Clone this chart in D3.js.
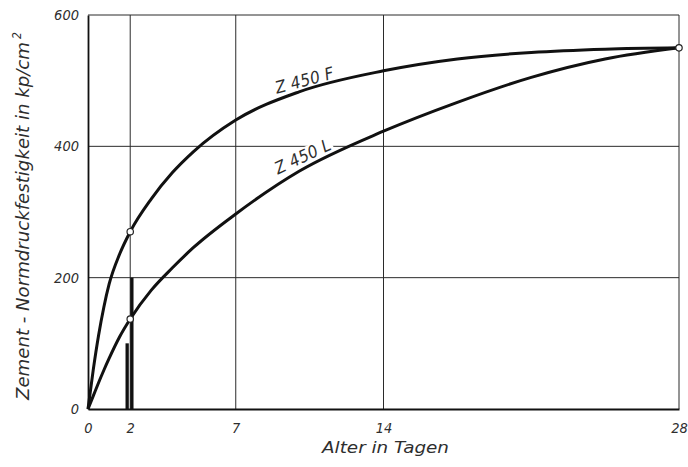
<!DOCTYPE html>
<html>
<head>
<meta charset="utf-8">
<script src="https://cdn.jsdelivr.net/npm/d3@7"></script>
<style>
  html, body { margin: 0; padding: 0; background: #fff; }
  svg { display: block; }
  text { font-family: "Liberation Sans Narrow", "DejaVu Sans Condensed", "Liberation Sans", sans-serif; font-style: italic; fill: #2e2e2e; }
</style>
</head>
<body>
<svg id="chart" width="688" height="467"></svg>
<script>
// Strength development of two cements (kp/cm²) over curing age (days)
const days  = [0, 0.25, 0.5, 0.75, 1, 1.5, 2, 3, 4, 5, 7, 10, 14, 17.5, 21, 24.5, 28];
const z450F = [0, 60, 112, 155, 190, 236, 270, 320, 360, 392, 440, 483, 515, 533, 543, 548, 550];
const z450L = [0, 20, 40, 59, 77, 110, 137, 181, 215, 246, 297, 362, 423, 467, 505, 533, 550];

// Marked test points (hollow circles)
const markDays   = [2, 2, 28];
const markValues = [270, 137, 550];

// Minimum 2-day strength bars
const minDays   = [2, 2];
const minValues = [100, 200];
const minKeys   = ["L", "F"];

// Axis ticks
const xTicks = [0, 2, 7, 14, 28];
const yTicks = [0, 200, 400, 600];

// Curve labels (anchored at the start of their baseline)
const labelTexts  = ["Z 450 F", "Z 450 L"];
const labelDays   = [8.95, 9.0];
const labelValues = [480, 357];
const labelAngles = [-15, -25];

const svg = d3.select("#chart");
const margin = { left: 88, right: 8, top: 15, bottom: 58 };
const W = 688, H = 467;

const x = d3.scaleLinear().domain([0, 28]).range([margin.left, W - margin.right - 1]);
const y = d3.scaleLinear().domain([0, 600]).range([H - margin.bottom, margin.top]);

// Grid
const grid = svg.append("g");
grid.selectAll("line.v").data(xTicks.filter(d => d > 0)).join("line")
  .attr("x1", d => x(d)).attr("x2", d => x(d))
  .attr("y1", y(0)).attr("y2", y(600))
  .attr("stroke", "#2b2b2b").attr("stroke-width", 1);
grid.selectAll("line.h").data(yTicks.filter(d => d > 0)).join("line")
  .attr("x1", x(0)).attr("x2", x(28))
  .attr("y1", d => y(d)).attr("y2", d => y(d))
  .attr("stroke", "#2b2b2b").attr("stroke-width", 1);

// Axes
const xAxis = svg.append("g").attr("transform", `translate(0,${y(0)})`)
  .call(d3.axisBottom(x).tickValues(xTicks).tickSize(0).tickPadding(10));
const yAxis = svg.append("g").attr("transform", `translate(${x(0)},0)`)
  .call(d3.axisLeft(y).tickValues(yTicks).tickSize(0).tickPadding(9));
[xAxis, yAxis].forEach(a => {
  a.select(".domain").attr("stroke", "#111").attr("stroke-width", 1.8);
  a.selectAll("text").style("font-size", "14.5px").attr("fill", "#2e2e2e")
    .style("font-family", "'Liberation Sans Narrow','DejaVu Sans Condensed',sans-serif")
    .style("font-style", "italic");
});
xAxis.selectAll("text").attr("dy", "0.95em");

// Curve labels: white backing interrupts the grid, text is drawn on top
const labelLayer = svg.append("g");
const labelSel = labelLayer.selectAll("g").data(labelTexts).join("g")
  .attr("transform", (t, i) => `translate(${x(labelDays[i])},${y(labelValues[i])}) rotate(${labelAngles[i]})`);
const labelBg = labelSel.append("rect").attr("fill", "#fff");
const labelTx = labelSel.append("text")
  .attr("textLength", 60).attr("lengthAdjust", "spacing")
  .style("font-size", "17px")
  .text(t => t);
labelTx.each(function (t, i) {
  const b = this.getBBox();
  d3.select(labelBg.nodes()[i])
    .attr("x", b.x - 2).attr("y", b.y + 2).attr("width", b.width + 4).attr("height", b.height - 3);
});

// Minimum-strength bars beside day 2
const band = d3.scaleBand().domain(minKeys).range([-4, 4]).paddingInner(0.3);
svg.append("g").selectAll("rect").data(minDays.map((d, i) => ({ d, v: minValues[i], k: minKeys[i] })))
  .join("rect")
  .attr("x", p => x(p.d) - 0.7 + band(p.k))
  .attr("width", band.bandwidth())
  .attr("y", p => y(p.v))
  .attr("height", p => y(0) - y(p.v))
  .attr("fill", "#111");

// Curves
const line = d3.line().x((d, i) => x(days[i])).y(d => y(d)).curve(d3.curveMonotoneX);
[z450F, z450L].forEach(series => {
  svg.append("path").datum(series)
    .attr("d", line)
    .attr("fill", "none").attr("stroke", "#111").attr("stroke-width", 3)
    .attr("stroke-linejoin", "round");
});

// Hollow markers
svg.append("g").selectAll("circle").data(markDays.map((d, i) => [d, markValues[i]]))
  .join("circle")
  .attr("cx", p => x(p[0])).attr("cy", p => y(p[1])).attr("r", 3.2)
  .attr("fill", "#fff").attr("stroke", "#222").attr("stroke-width", 1.2);

// Axis titles
svg.append("text")
  .attr("x", 322).attr("y", 453)
  .attr("textLength", 127).attr("lengthAdjust", "spacingAndGlyphs")
  .style("font-size", "16.5px")
  .text("Alter in Tagen");

const yTitle = svg.append("text")
  .attr("transform", `translate(29,400) rotate(-90)`)
  .style("font-size", "18px");
yTitle.append("tspan")
  .attr("textLength", 358).attr("lengthAdjust", "spacingAndGlyphs")
  .text("Zement - Normdruckfestigkeit in kp/cm");
yTitle.append("tspan").attr("dx", 3).attr("dy", -8).style("font-size", "12px").text("2");
</script>
</body>
</html>
